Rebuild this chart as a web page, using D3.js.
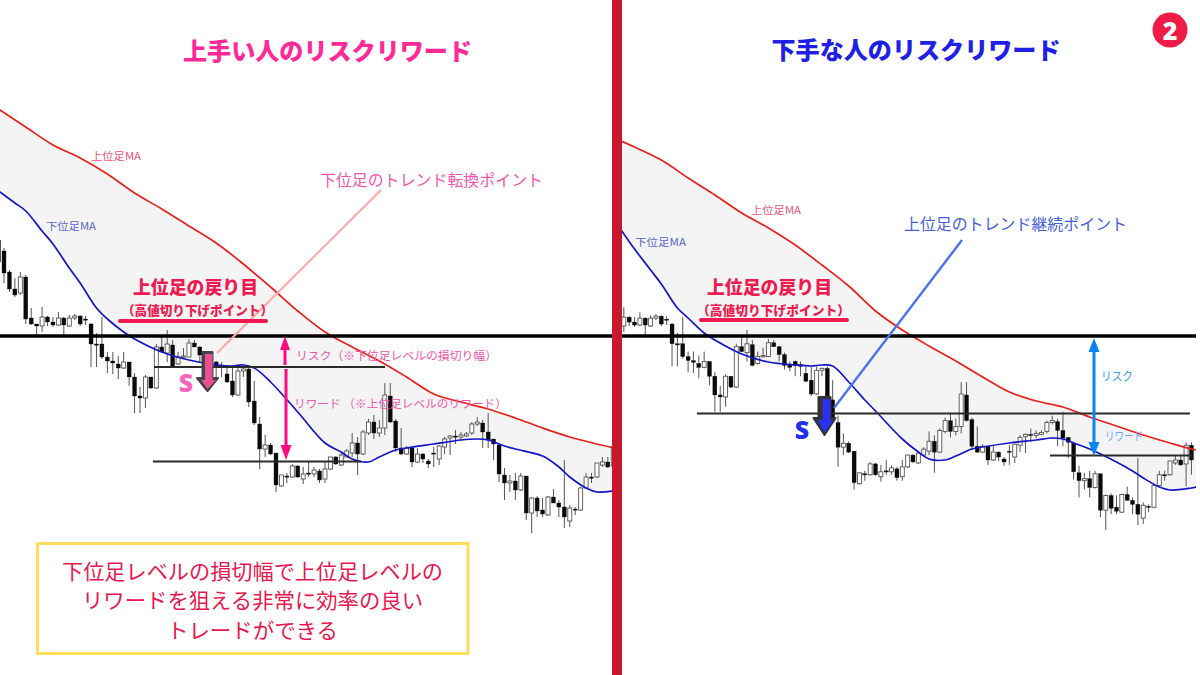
<!DOCTYPE html>
<html lang="ja"><head><meta charset="utf-8">
<style>html,body{margin:0;padding:0;background:#fff}svg{display:block}text{font-family:"Noto Sans CJK JP","Noto Sans",sans-serif}</style>
<script src="https://cdnjs.cloudflare.com/ajax/libs/d3/7.8.5/d3.min.js"></script>
</head><body><svg id="c" width="1200" height="675"></svg>
<script>
// Candle values (price depth: larger = lower on the chart), bar index = array position
const candleHigh = [228,248,270,278,272,275,308,324,307,316,317,312,317,315,314,315,316,323,333,317,352,352,356,352,362,373,387,375,377,344,337,330,340,352,348,339,340,346,353,362,361,362,367,367,367,368,367,381,417,435,443,453,475,473,464,465,467,462,467,469,462,457,456,453,449,433,437,430,419,415,420,383,383,419,428,446,447,448,453,459,447,445,437,435,430,432,432,422,417,420,413,439,444,468,475,473,473,476,497,496,498,496,489,500,460,505,507,487,473,473,463,457,457,444,444];
const candleLow  = [273,283,292,297,295,324,325,337,332,326,327,326,335,327,320,326,325,367,367,359,373,374,379,369,386,413,413,408,389,389,352,362,367,365,358,357,347,362,370,372,377,377,383,397,396,377,407,425,469,457,455,492,487,483,478,478,484,477,477,483,483,470,465,466,457,457,475,455,435,439,437,435,423,452,455,455,467,463,463,468,467,465,454,455,444,440,437,435,426,448,448,460,482,500,492,500,491,520,533,517,517,516,503,517,528,527,515,511,489,483,478,467,468,489,477];
const candleOpen = [240,251,272,289,293,277,318,324,326,317,322,325,318,326,318,316,319,324,344,344,357,361,364,368,362,377,396,398,377,388,347,353,345,364,357,357,343,347,355,365,362,365,374,381,395,371,369,401,424,449,445,453,486,476,477,466,479,473,474,471,479,469,457,465,457,453,443,454,433,422,433,428,396,421,448,454,448,462,454,461,453,459,447,438,436,437,436,433,424,423,432,439,445,475,483,481,490,476,513,498,510,515,497,503,507,521,509,510,488,477,477,465,462,466,447];
const candleClose= [262,273,289,295,277,319,324,326,317,322,325,318,325,318,316,324,320,344,345,357,361,363,368,362,377,396,398,377,388,347,352,344,366,357,356,343,347,355,366,368,366,367,382,395,371,369,402,423,449,445,454,485,475,477,466,477,474,474,470,480,469,457,464,455,451,443,454,432,422,433,428,395,422,448,454,448,462,454,459,464,454,446,439,436,437,435,434,424,422,432,440,444,474,483,481,490,476,513,498,511,514,497,503,507,517,508,510,488,477,478,463,462,467,447,462];

// Moving averages: [bar index list] + [value list]
const redLeftIdx  = [0,5,10,15,20,25,30,35,40,45,50,55,60,65,70,75,80,85,90,95,100,105,110,114];
const redLeftVal  = [109,127,145,158,174,193,209,226,243,264,287,311,332,347,361,377,394,402,409,418,428,437,444,449];
const blueLeftIdx = [0,3,5,8,10,13,15,18,20,23,25,30,35,40,43,45,47,50,55,60,63,65,68,70,73,75,80,85,88,90,93,95,100,103,105,108,110,114];
const blueLeftVal = [191,203,211,231,244,268,283,308,319,332,339,352,360,365,366,365,368,382,412,443,452,459,462,457,450,448,444,440,439,440,446,449,456,467,477,488,492,490];
const redRightIdx = [7,10,15,20,25,30,35,40,45,50,55,60,65,70,75,80,85,90,95,100,105,110,114,115];
const redRightVal = [140,147,160,178,195,213,228,245,265,286,311,330,346,361,377,392,401,407,417,426,435,443,449,450];
const blueRightIdx= [7,10,13,15,18,20,23,25,30,35,40,43,45,47,50,53,55,60,63,65,68,70,73,75,80,85,88,90,93,95,100,103,105,108,110,114,115];
const blueRightVal= [226,249,270,284,308,318,333,340,354,362,365,366,365,366,382,400,411,439,452,459,460,456,449,447,443,440,438,439,445,449,462,471,478,487,490,488,487];

// Text
const titleLeft = "上手い人のリスクリワード", titleRight = "下手な人のリスクリワード";
const noteLines = ["下位足レベルの損切幅で上位足レベルの","リワードを狙える非常に効率の良い","トレードができる"];

const svg = d3.select("#c");
const defs = svg.append("defs");
defs.append("clipPath").attr("id","cl").append("rect").attr("x",0).attr("y",0).attr("width",612).attr("height",675);
defs.append("clipPath").attr("id","cr").append("rect").attr("x",622).attr("y",0).attr("width",574).attr("height",675);

const yMA = d3.scaleLinear().domain([0,675]).range([0,675]);
const panels = [
 {clip:"cl", x:d3.scaleLinear().domain([0,114]).range([-1.44,618.72]), y:yMA, w:4,
  red:[redLeftIdx,redLeftVal], blue:[blueLeftIdx,blueLeftVal], x0:0, x1:612},
 {clip:"cr", x:d3.scaleLinear().domain([0,115]).range([581,1196.8]),
  y:d3.scaleLinear().domain([0,675]).range([4.9,669.8]), w:4,
  red:[redRightIdx,redRightVal], blue:[blueRightIdx,blueRightVal], x0:622, x1:1196}
];
const bars = d3.range(candleHigh.length);

panels.forEach(p=>{
  const g = svg.append("g").attr("clip-path",`url(#${p.clip})`);
  const toPts = a=>a[0].map((d,i)=>[p.x(d),yMA(a[1][i])]);
  const line = d3.line().curve(d3.curveCatmullRom.alpha(0.5));
  const rp = toPts(p.red), bp = toPts(p.blue);
  // band between the two averages
  g.append("path").attr("fill","#f4f4f4")
    .attr("d", line(rp)+"L"+line(bp.slice().reverse()).slice(1)+"Z");
  // candles
  const c = g.append("g");
  c.selectAll("line").data(bars).join("line")
    .attr("x1",i=>p.x(i)).attr("x2",i=>p.x(i))
    .attr("y1",i=>p.y(candleHigh[i])).attr("y2",i=>p.y(candleLow[i]))
    .attr("stroke","#555").attr("stroke-width",1);
  c.selectAll("rect").data(bars).join("rect")
    .attr("x",i=>p.x(i)-p.w/2).attr("width",p.w)
    .attr("y",i=>p.y(Math.min(candleOpen[i],candleClose[i])))
    .attr("height",i=>Math.max(1.2,Math.abs(p.y(candleOpen[i])-p.y(candleClose[i]))))
    .attr("fill",i=>candleClose[i]>candleOpen[i]?"#0a0a0a":"#fff")
    .attr("stroke",i=>candleClose[i]>candleOpen[i]?"#0a0a0a":"#555")
    .attr("stroke-width",i=>candleClose[i]>candleOpen[i]?0.3:0.9);
  // averages
  g.append("path").attr("d",line(rp)).attr("fill","none").attr("stroke","#e8201c").attr("stroke-width",1.7);
  g.append("path").attr("d",line(bp)).attr("fill","none").attr("stroke","#1414c8").attr("stroke-width",1.7);
  // main level
  g.append("line").attr("x1",p.x0).attr("x2",p.x1).attr("y1",yMA(336)).attr("y2",yMA(336)).attr("stroke","#000").attr("stroke-width",3.4);
});

function hline(x1,x2,v){ svg.append("line").attr("x1",x1).attr("x2",x2).attr("y1",yMA(v)).attr("y2",yMA(v)).attr("stroke","#2a2a2a").attr("stroke-width",1.8); }
hline(154,385,367); hline(153,361,461.5); hline(697,1190,413.5); hline(1050,1192,455.5);

function label(t,x,y,size,fill,opts={}){
  return svg.append("text").text(t).attr("x",x).attr("y",y).attr("font-size",size).attr("fill",fill)
    .attr("font-weight",opts.w||400).attr("text-anchor",opts.a||"start").attr("dominant-baseline","central")
    .attr("textLength",opts.len||null).attr("lengthAdjust",opts.len?"spacingAndGlyphs":null);
}
// leader lines
svg.append("line").attr("x1",381).attr("y1",190).attr("x2",217).attr("y2",353).attr("stroke","#ffa6a6").attr("stroke-width",2);
svg.append("line").attr("x1",962).attr("y1",240).attr("x2",834).attr("y2",408).attr("stroke","#4d72ee").attr("stroke-width",2.4);

// measured arrows
function arrowUpTip(x,tip,h,hw,col){ svg.append("path").attr("fill",col).attr("d",`M${x},${tip}L${x+hw},${tip+h}L${x-hw},${tip+h}Z`); }
function arrowDownTip(x,tip,h,hw,col){ svg.append("path").attr("fill",col).attr("d",`M${x},${tip}L${x+hw},${tip-h}L${x-hw},${tip-h}Z`); }
function shaft(x,a,b,col,w){ svg.append("line").attr("x1",x).attr("x2",x).attr("y1",a).attr("y2",b).attr("stroke",col).attr("stroke-width",w); }
const pk="#ff0a82", bl="#0b84f0";
shaft(285,345,365,pk,3); arrowUpTip(285,336,14,5,pk);
shaft(286,369,448,pk,3); arrowDownTip(286,460,15,5.5,pk);
shaft(1094,348,450,bl,3); arrowUpTip(1094,338,14,5.5,bl); arrowDownTip(1094,456,14,5.5,bl);

// entry arrows: dark shadow copy, then coloured arrow
function entry(x,top,tip,headY,sw,hw,fill,stroke,dx){
  const d=(o)=>`M${x-sw+o},${top}H${x+sw+o}V${headY}H${x+hw+o}L${x+o},${tip}L${x-hw+o},${headY}H${x-sw+o}Z`;
  svg.append("path").attr("fill",stroke).attr("stroke",stroke).attr("stroke-width",2).attr("stroke-linejoin","round").attr("d",d(0));
  svg.append("path").attr("fill",fill).attr("d",`M${x-sw+dx},${top+2}H${x+sw}V${headY+2}H${x+hw-2}L${x},${tip-2}L${x-hw+4},${headY+2}H${x-sw+dx}Z`);
}
entry(207.5,352,391,378,5,10.5,"#ea4f94","#444",2.5);
entry(824.5,397,435,418,6,11,"#2a32ee","#333",4);

// panel titles
label(titleLeft,327.5,49,24,"#ff2a98",{w:900,a:"middle",len:289});
label(titleRight,916,48,24,"#1f1fe6",{w:900,a:"middle",len:289});

// annotations
label("上位足MA",91,155,10.5,"#e8567a",{len:50});
label("下位足MA",46,225,10.5,"#5a64cc",{len:50});
label("上位足MA",751,209,10.5,"#e8567a",{len:50});
label("下位足MA",635,241,10.5,"#5a64cc",{len:51});
label("下位足のトレンド転換ポイント",320,179,16,"#f058ad",{len:223});
label("上位足のトレンド継続ポイント",904,223,16,"#4460dc",{len:223});
label("リスク（※下位足レベルの損切り幅）",296,354,11.8,"#ee55aa",{len:201});
label("リワード （※上位足レベルのリワード）",294,402,11.8,"#ee55aa",{len:213});
label("リスク",1101,375,12,"#3a9af0",{len:32});
label("リワード",1105,435,12,"#66aaff",{len:38});
label("S",186,382,25,"#ff66bb",{w:800,a:"middle"}).style("font-family","'Open Sans',sans-serif");
label("S",802,429,25,"#2230ee",{w:800,a:"middle"}).style("font-family","'Open Sans',sans-serif");

[[195.5,122,273,118,268,321],[769.5,697,850,699,849,320]].forEach(([cx,a,b,u1,u2,uy])=>{
  label("上位足の戻り目",cx,286,18,"#ee1a50",{w:900,a:"middle",len:125});
  label("（高値切り下げポイント）",(a+b)/2,309,13,"#ee1a50",{w:900,a:"middle",len:b-a});
  svg.append("line").attr("x1",u1+2).attr("x2",u2-2).attr("y1",uy).attr("y2",uy).attr("stroke","#ee1a50").attr("stroke-width",4).attr("stroke-linecap","round");
});

// note box
svg.append("rect").attr("x",37.5).attr("y",543.5).attr("width",430.5).attr("height",110).attr("fill","#fff").attr("stroke","#ffdc5e").attr("stroke-width",3);
const noteY=[570,599,629], noteLen=[381,341,171];
noteLines.forEach((t,i)=>label(t,252.5,noteY[i],21,"#e8174f",{a:"middle",len:noteLen[i]}));

// divider + badge
svg.append("rect").attr("x",612).attr("y",0).attr("width",10).attr("height",675).attr("fill","#c8182e");
svg.append("circle").attr("cx",1170).attr("cy",30).attr("r",17.5).attr("fill","#f01c48");
label("2",1170,30,25,"#fff",{w:800,a:"middle"}).style("font-family","'Open Sans',sans-serif");
</script></body></html>
